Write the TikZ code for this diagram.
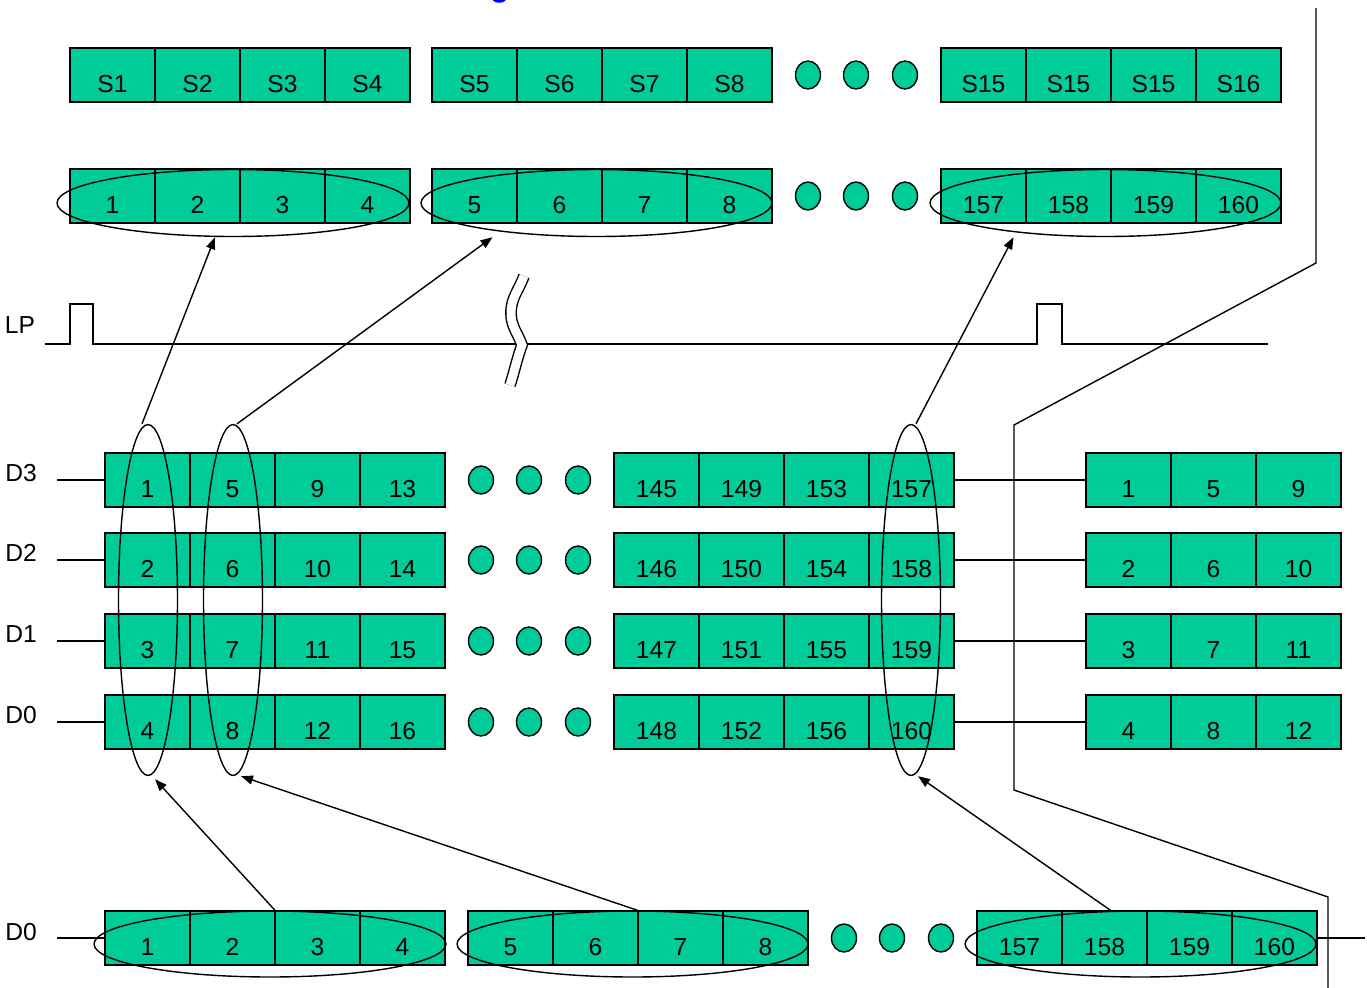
\documentclass[tikz,border=0pt]{standalone}
\usepackage{fontspec}
\setmainfont{Liberation Sans}
\usetikzlibrary{shapes.geometric,arrows.meta,calc}

\definecolor{cellgreen}{RGB}{0,204,153}
\definecolor{titleblue}{RGB}{0,0,255}

\tikzset{
  cell/.style={draw, fill=cellgreen, line width=0.8pt, minimum width=1.7cm,
    minimum height=1.08cm, inner sep=0pt, text height=0.68cm, text depth=0pt,
    font=\fontsize{14}{16}\selectfont},
  dot/.style={ellipse, draw, fill=cellgreen, line width=0.8pt, inner sep=0pt,
    minimum width=0.5cm, minimum height=0.56cm},
  ring/.style={ellipse, draw, line width=0.8pt, inner sep=0pt},
  sig/.style={font=\fontsize{14}{16}\selectfont, inner sep=0pt},
  wire/.style={line width=0.8pt},
  link/.style={line width=0.8pt, -{Triangle[length=2.4mm,width=1.8mm]}},
}

\begin{document}
\begin{tikzpicture}[x=0.02cm, y=-0.02cm]
    \useasboundingbox (0,0) rectangle (1367,988);

    % Title (cut by the top edge)
    \begin{scope}
        \clip (0,0) rectangle (1367,988);
        \node[anchor=base west, inner sep=0pt, text=titleblue,
              font=\fontsize{18}{20}\selectfont\bfseries] (title) at (45,-4)
              {Parallel to Serial Interface Diagram};
    \end{scope}

    % Slot row
    \foreach \lab [count=\i] in {S1,S2,S3,S4}
        \node[cell] (slot-a\i) at (27.5+85*\i,75) {\lab};
    \foreach \lab [count=\i] in {S5,S6,S7,S8}
        \node[cell] (slot-b\i) at (389.5+85*\i,75) {\lab};
    \foreach \lab [count=\i] in {S15,S15,S15,S16}
        \node[cell] (slot-c\i) at (898.5+85*\i,75) {\lab};
    \foreach \x [count=\i] in {808,856,905}
        \node[dot] (slot-dot\i) at (\x,75) {};

    % Channel row
    \foreach \lab [count=\i] in {1,2,3,4}
        \node[cell] (ch-a\i) at (27.5+85*\i,196) {\lab};
    \foreach \lab [count=\i] in {5,6,7,8}
        \node[cell] (ch-b\i) at (389.5+85*\i,196) {\lab};
    \foreach \lab [count=\i] in {157,158,159,160}
        \node[cell] (ch-c\i) at (898.5+85*\i,196) {\lab};
    \foreach \x [count=\i] in {808,856,905}
        \node[dot] (ch-dot\i) at (\x,196) {};
    \node[ring, minimum width=7.04cm, minimum height=1.34cm] (grp-a) at (233,203) {};
    \node[ring, minimum width=7.02cm, minimum height=1.34cm] (grp-b) at (596.5,203) {};
    \node[ring, minimum width=7.02cm, minimum height=1.34cm] (grp-c) at (1105.5,203) {};

    % LP strobe with break mark
    \node[sig] (lab-lp) at (20,325) {LP};
    \draw[wire] (45,344) -- (70,344) -- (70,304) -- (93,304) -- (93,344)
        -- (1037,344) -- (1037,304) -- (1062,304) -- (1062,344) -- (1268,344);
    \draw[line width=0.8pt, double, double distance=0.18cm]
        (524,276) to[out=-110,in=90] (511,313) to[out=-90,in=110] (522,345)
        to[out=-110,in=72] (510,385);

    % Data lanes D3..D0
    \foreach \d/\ro/\y in {3/1/480,2/2/560,1/3/641,0/4/722} {
        \node[sig] (lab-d\d) at (21,\y-7) {D\d};
        \coordinate (tap-d\d) at (57,\y);
        \foreach \k in {1,...,4} {
            \pgfmathtruncatemacro\va{4*(\k-1)+\ro}
            \pgfmathtruncatemacro\vb{144+4*(\k-1)+\ro}
            \node[cell] (d\d-a\k) at (62.5+85*\k,\y) {\va};
            \node[cell] (d\d-b\k) at (571.5+85*\k,\y) {\vb};
        }
        \foreach \k in {1,2,3} {
            \pgfmathtruncatemacro\va{4*(\k-1)+\ro}
            \node[cell] (d\d-c\k) at (1043.5+85*\k,\y) {\va};
        }
        \foreach \x [count=\i] in {481,529,578}
            \node[dot] (d\d-dot\i) at (\x,\y) {};
        \draw[wire] (tap-d\d) -- (d\d-a1.west);
        \draw[wire] (d\d-b4.east) -- (d\d-c1.west);
    }
    \node[ring, minimum width=1.18cm, minimum height=7.02cm] (vc-1) at (148,600) {};
    \node[ring, minimum width=1.18cm, minimum height=7.02cm] (vc-2) at (233,600) {};
    \node[ring, minimum width=1.18cm, minimum height=7.02cm] (vc-3) at (911,600) {};

    % Serial lane
    \node[sig] (lab-ser) at (21,932) {D0};
    \coordinate (tap-ser) at (57,938);
    \coordinate (out-ser) at (1365,938);
    \foreach \lab [count=\i] in {1,2,3,4}
        \node[cell] (ser-a\i) at (62.5+85*\i,938) {\lab};
    \foreach \lab [count=\i] in {5,6,7,8}
        \node[cell] (ser-b\i) at (425.5+85*\i,938) {\lab};
    \foreach \lab [count=\i] in {157,158,159,160}
        \node[cell] (ser-c\i) at (934.5+85*\i,938) {\lab};
    \foreach \x [count=\i] in {844,892,941}
        \node[dot] (ser-dot\i) at (\x,938) {};
    \draw[wire] (tap-ser) -- (ser-a1.west);
    \draw[wire] (ser-c4.east) -- (out-ser);
    \node[ring, minimum width=7.04cm, minimum height=1.32cm] (bgrp-a) at (270,944) {};
    \node[ring, minimum width=7.02cm, minimum height=1.32cm] (bgrp-b) at (632.5,944) {};
    \node[ring, minimum width=7.02cm, minimum height=1.32cm] (bgrp-c) at (1140.5,944) {};

    % Mapping arrows
    \draw[link] ($(vc-1.north)+(-6,0)$) -- ($(grp-a.south)+(-18,0)$);
    \draw[link] ($(vc-2.north)+(4,0)$) -- ($(grp-b.south)+(-104,0)$);
    \draw[link] ($(vc-3.north)+(5,0)$) -- ($(grp-c.south)+(-92,0)$);
    \draw[link] ($(bgrp-a.north)+(5,0)$) -- ($(vc-1.south)+(7,3)$);
    \draw[link] ($(bgrp-b.north)+(5,0)$) -- ($(vc-2.south)+(8,0)$);
    \draw[link] ($(bgrp-c.north)+(-30,0)$) -- ($(vc-3.south)+(7,0)$);

    % Frame boundary
    \draw[wire] (1316,8) -- (1316,263) -- (1014,425) -- (1014,790)
        -- (1328,897) -- (1328,988);
\end{tikzpicture}
\end{document}
